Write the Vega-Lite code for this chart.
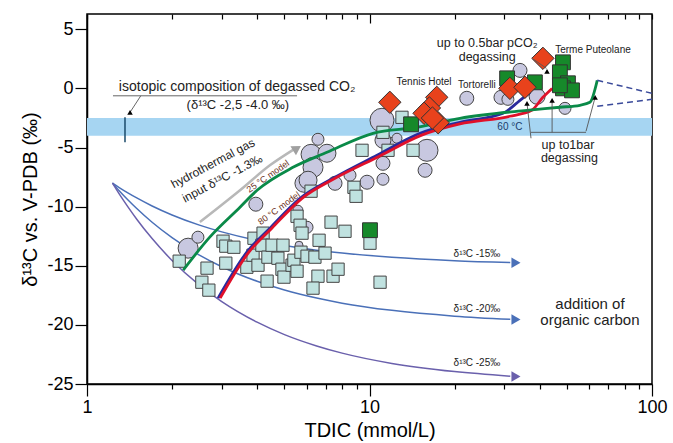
{
  "$schema": "https://vega.github.io/schema/vega-lite/v6.json",
  "width": 565,
  "height": 370,
  "autosize": {"type": "none"},
  "padding": {"left": 87, "top": 14, "right": 21, "bottom": 59},
  "background": "white",
  "config": {
    "font": "Liberation Sans",
    "view": {"stroke": "black", "strokeWidth": 1.5},
    "axis": {"grid": false, "domainColor": "black", "domainWidth": 1.5, "tickColor": "black", "tickWidth": 1.2, "labelColor": "black", "titleColor": "black", "labelFont": "Liberation Sans", "titleFont": "Liberation Sans", "titleFontWeight": "normal"}
  },
  "datasets": {
    "band": [{"tdic": 1, "tdic2": 100, "d13c": -4.0, "d13c2": -2.5}],
    "organic": [
      {"end": "-15", "tdic": 1.23, "d13c": -8.0}, {"end": "-15", "tdic": 1.3, "d13c": -8.38}, {"end": "-15", "tdic": 1.4, "d13c": -8.85}, {"end": "-15", "tdic": 1.5, "d13c": -9.26}, {"end": "-15", "tdic": 1.7, "d13c": -9.94}, {"end": "-15", "tdic": 2, "d13c": -10.7}, {"end": "-15", "tdic": 2.5, "d13c": -11.56}, {"end": "-15", "tdic": 3, "d13c": -12.13}, {"end": "-15", "tdic": 4, "d13c": -12.85}, {"end": "-15", "tdic": 5, "d13c": -13.28}, {"end": "-15", "tdic": 6.5, "d13c": -13.68}, {"end": "-15", "tdic": 8, "d13c": -13.92}, {"end": "-15", "tdic": 12, "d13c": -14.28}, {"end": "-15", "tdic": 20, "d13c": -14.57}, {"end": "-15", "tdic": 31.5, "d13c": -14.73},
      {"end": "-20", "tdic": 1.23, "d13c": -8.0}, {"end": "-20", "tdic": 1.3, "d13c": -8.65}, {"end": "-20", "tdic": 1.4, "d13c": -9.46}, {"end": "-20", "tdic": 1.5, "d13c": -10.16}, {"end": "-20", "tdic": 1.7, "d13c": -11.32}, {"end": "-20", "tdic": 2, "d13c": -12.62}, {"end": "-20", "tdic": 2.5, "d13c": -14.1}, {"end": "-20", "tdic": 3, "d13c": -15.08}, {"end": "-20", "tdic": 4, "d13c": -16.31}, {"end": "-20", "tdic": 5, "d13c": -17.05}, {"end": "-20", "tdic": 6.5, "d13c": -17.73}, {"end": "-20", "tdic": 8, "d13c": -18.16}, {"end": "-20", "tdic": 12, "d13c": -18.77}, {"end": "-20", "tdic": 20, "d13c": -19.26}, {"end": "-20", "tdic": 31.5, "d13c": -19.53},
      {"end": "-25", "tdic": 1.23, "d13c": -8.0}, {"end": "-25", "tdic": 1.3, "d13c": -8.92}, {"end": "-25", "tdic": 1.4, "d13c": -10.06}, {"end": "-25", "tdic": 1.5, "d13c": -11.06}, {"end": "-25", "tdic": 1.7, "d13c": -12.7}, {"end": "-25", "tdic": 2, "d13c": -14.55}, {"end": "-25", "tdic": 2.5, "d13c": -16.64}, {"end": "-25", "tdic": 3, "d13c": -18.03}, {"end": "-25", "tdic": 4, "d13c": -19.77}, {"end": "-25", "tdic": 5, "d13c": -20.82}, {"end": "-25", "tdic": 6.5, "d13c": -21.78}, {"end": "-25", "tdic": 8, "d13c": -22.39}, {"end": "-25", "tdic": 12, "d13c": -23.26}, {"end": "-25", "tdic": 20, "d13c": -23.95}, {"end": "-25", "tdic": 31.5, "d13c": -24.34}
    ],
    "organicHeads": [
      {"end": "-15", "tdic": 33, "d13c": -14.75},
      {"end": "-20", "tdic": 33, "d13c": -19.55},
      {"end": "-25", "tdic": 33, "d13c": -24.36}
    ],
    "greyArrow": [
      {"tdic": 2.51, "d13c": -11.3}, {"tdic": 3.48, "d13c": -8.61}, {"tdic": 4.44, "d13c": -6.5}, {"tdic": 5.4, "d13c": -5.15}
    ],
    "greyHead": [{"tdic": 5.54, "d13c": -5.06}],
    "circles": [
      {"tdic": 2.28, "d13c": -13.51, "r": 10}, {"tdic": 2.47, "d13c": -12.58, "r": 6}, {"tdic": 3.96, "d13c": -9.79, "r": 7},
      {"tdic": 5.86, "d13c": -8.02, "r": 9}, {"tdic": 7.55, "d13c": -8.02, "r": 7}, {"tdic": 6.01, "d13c": -11.74, "r": 6},
      {"tdic": 5.63, "d13c": -13.26, "r": 4}, {"tdic": 11.07, "d13c": -2.69, "r": 12}, {"tdic": 6.57, "d13c": -4.3, "r": 6},
      {"tdic": 6.21, "d13c": -5.57, "r": 10}, {"tdic": 7.07, "d13c": -5.48, "r": 9}, {"tdic": 6.31, "d13c": -6.67, "r": 10},
      {"tdic": 6.06, "d13c": -7.76, "r": 9}, {"tdic": 8.53, "d13c": -7.34, "r": 6}, {"tdic": 9.8, "d13c": -7.93, "r": 7},
      {"tdic": 11.16, "d13c": -7.68, "r": 6}, {"tdic": 11.16, "d13c": -6.33, "r": 7}, {"tdic": 12.01, "d13c": -4.64, "r": 6},
      {"tdic": 12.51, "d13c": -4.21, "r": 5}, {"tdic": 15.98, "d13c": -5.23, "r": 11}, {"tdic": 15.73, "d13c": -6.92, "r": 7},
      {"tdic": 22.1, "d13c": -0.83, "r": 7}, {"tdic": 34.1, "d13c": 1.53, "r": 7}, {"tdic": 29.2, "d13c": -0.75, "r": 7},
      {"tdic": 30.9, "d13c": -0.92, "r": 6}, {"tdic": 39.2, "d13c": -0.66, "r": 8}, {"tdic": 49.2, "d13c": -1.68, "r": 6},
      {"tdic": 5.58, "d13c": -10.3, "r": 5}, {"tdic": 11.16, "d13c": -4.38, "r": 8}
    ],
    "squares": [
      {"tdic": 2.12, "d13c": -14.61}, {"tdic": 2.55, "d13c": -16.39}, {"tdic": 2.7, "d13c": -17.06}, {"tdic": 2.66, "d13c": -15.2},
      {"tdic": 3.03, "d13c": -12.92}, {"tdic": 3.1, "d13c": -13.34}, {"tdic": 3.31, "d13c": -13.43}, {"tdic": 3.1, "d13c": -14.78},
      {"tdic": 3.68, "d13c": -15.12}, {"tdic": 3.87, "d13c": -14.1}, {"tdic": 3.9, "d13c": -12.67}, {"tdic": 4.2, "d13c": -12.24},
      {"tdic": 4.16, "d13c": -13.26}, {"tdic": 4.03, "d13c": -14.95}, {"tdic": 4.37, "d13c": -14.27}, {"tdic": 4.52, "d13c": -13.26},
      {"tdic": 4.94, "d13c": -13.26}, {"tdic": 4.74, "d13c": -14.36}, {"tdic": 4.9, "d13c": -15.29}, {"tdic": 4.98, "d13c": -15.96},
      {"tdic": 4.34, "d13c": -16.3}, {"tdic": 5.32, "d13c": -14.95}, {"tdic": 5.4, "d13c": -14.53}, {"tdic": 5.54, "d13c": -15.46},
      {"tdic": 5.72, "d13c": -13.85}, {"tdic": 6.01, "d13c": -14.19}, {"tdic": 6.41, "d13c": -14.27}, {"tdic": 6.63, "d13c": -12.84},
      {"tdic": 6.96, "d13c": -13.93}, {"tdic": 6.57, "d13c": -15.88}, {"tdic": 6.31, "d13c": -16.89}, {"tdic": 7.43, "d13c": -15.88},
      {"tdic": 7.74, "d13c": -15.29}, {"tdic": 5.54, "d13c": -10.81}, {"tdic": 5.68, "d13c": -11.57}, {"tdic": 5.77, "d13c": -12.24},
      {"tdic": 7.31, "d13c": -11.31}, {"tdic": 8.19, "d13c": -12.08}, {"tdic": 6.21, "d13c": -8.69}, {"tdic": 11.16, "d13c": -3.71},
      {"tdic": 13.03, "d13c": -2.44}, {"tdic": 11.63, "d13c": -5.23}, {"tdic": 9.41, "d13c": -5.23}, {"tdic": 14.26, "d13c": -5.23},
      {"tdic": 8.81, "d13c": -8.36}, {"tdic": 8.96, "d13c": -9.12}, {"tdic": 10.04, "d13c": -13.09}, {"tdic": 10.9, "d13c": -16.39}
    ],
    "greens": [
      {"tdic": 10.04, "d13c": -11.99}, {"tdic": 14.03, "d13c": -3.03}, {"tdic": 30.7, "d13c": 0.86}, {"tdic": 38.5, "d13c": 0.52},
      {"tdic": 48.4, "d13c": 2.21}, {"tdic": 47.2, "d13c": 1.37}, {"tdic": 50.4, "d13c": 0.44}, {"tdic": 48.4, "d13c": 0.01},
      {"tdic": 52.1, "d13c": -0.16}, {"tdic": 47.2, "d13c": 0.27}
    ],
    "diamonds": [
      {"tdic": 11.8, "d13c": -1.17}, {"tdic": 17.3, "d13c": -0.75}, {"tdic": 16.3, "d13c": -1.65}, {"tdic": 15.6, "d13c": -2.1},
      {"tdic": 17.5, "d13c": -2.9}, {"tdic": 16.7, "d13c": -2.5}, {"tdic": 41.1, "d13c": 2.55}, {"tdic": 31.4, "d13c": 0.01},
      {"tdic": 35.5, "d13c": 0.1}
    ],
    "models": [
      {"m": "blue", "tdic": 2.91, "d13c": -17.74}, {"m": "blue", "tdic": 3.68, "d13c": -13.85}, {"m": "blue", "tdic": 4.44, "d13c": -11.82},
      {"m": "blue", "tdic": 5.68, "d13c": -9.29}, {"m": "blue", "tdic": 7.43, "d13c": -7.6}, {"m": "blue", "tdic": 10.63, "d13c": -5.65},
      {"m": "blue", "tdic": 15.1, "d13c": -3.79}, {"m": "blue", "tdic": 20.9, "d13c": -2.86}, {"m": "blue", "tdic": 29.7, "d13c": -2.1},
      {"m": "blue", "tdic": 34.1, "d13c": -1.0}, {"m": "blue", "tdic": 37.0, "d13c": -0.33},
      {"m": "red", "tdic": 2.96, "d13c": -17.74}, {"m": "red", "tdic": 3.74, "d13c": -13.85}, {"m": "red", "tdic": 4.51, "d13c": -11.82},
      {"m": "red", "tdic": 5.77, "d13c": -9.29}, {"m": "red", "tdic": 7.55, "d13c": -7.6}, {"m": "red", "tdic": 10.8, "d13c": -5.75},
      {"m": "red", "tdic": 15.3, "d13c": -3.95}, {"m": "red", "tdic": 20.9, "d13c": -3.0}, {"m": "red", "tdic": 31.4, "d13c": -2.35},
      {"m": "red", "tdic": 37.5, "d13c": -1.85}, {"m": "red", "tdic": 41.1, "d13c": -0.75}, {"m": "red", "tdic": 44.3, "d13c": 0.0},
      {"m": "green", "tdic": 2.19, "d13c": -15.37}, {"m": "green", "tdic": 2.72, "d13c": -12.58}, {"m": "green", "tdic": 3.48, "d13c": -10.05},
      {"m": "green", "tdic": 4.0, "d13c": -8.61}, {"m": "green", "tdic": 5.36, "d13c": -6.67}, {"m": "green", "tdic": 7.07, "d13c": -5.4},
      {"m": "green", "tdic": 10.29, "d13c": -3.79}, {"m": "green", "tdic": 14.7, "d13c": -3.28}, {"m": "green", "tdic": 20.9, "d13c": -2.52},
      {"m": "green", "tdic": 36.1, "d13c": -1.85}, {"m": "green", "tdic": 47.2, "d13c": -1.59}, {"m": "green", "tdic": 55.6, "d13c": -1.42},
      {"m": "green", "tdic": 60.3, "d13c": -1.17}, {"m": "green", "tdic": 64.0, "d13c": 0.69}
    ],
    "dashed": [
      {"s": "a", "tdic": 64.0, "d13c": 0.69}, {"s": "a", "tdic": 100, "d13c": -0.41},
      {"s": "b", "tdic": 64.0, "d13c": -1.51}, {"s": "b", "tdic": 100, "d13c": -0.92}
    ],
    "thinRules": [
      {"tdic": 36.1, "d13c": -1.26, "tdic2": 37.3, "d13c2": -4.21},
      {"tdic": 44.3, "d13c": -1.0, "tdic2": 44.3, "d13c2": -3.71},
      {"tdic": 62.9, "d13c": -0.75, "tdic2": 58.4, "d13c2": -3.62},
      {"tdic": 37.3, "d13c": -3.71, "tdic2": 58.4, "d13c2": -3.71},
      {"tdic": 37.9, "d13c": 2.5, "tdic2": 42.3, "d13c2": 1.7},
      {"tdic": 1.42, "d13c": -2.02, "tdic2": 1.55, "d13c2": -0.62},
      {"tdic": 1.236, "d13c": -0.62, "tdic2": 5.54, "d13c2": -0.62}
    ],
    "errbar": [{"tdic": 1.363, "d13c": -2.44, "tdic2": 1.363, "d13c2": -4.55}],
    "blackHeads": [
      {"tdic": 36.1, "d13c": -1.26}, {"tdic": 44.3, "d13c": -1.0}, {"tdic": 62.9, "d13c": -0.75}, {"tdic": 42.5, "d13c": 1.45}, {"tdic": 1.42, "d13c": -2.02}
    ],
    "text14": [
      {"tdic": 3.4, "d13c": 0.12, "label": "isotopic composition of degassed CO₂"}
    ],
    "text13": [
      {"tdic": 3.42, "d13c": -1.4, "label": "(δ¹³C -2,5 -4.0 ‰)"}
    ],
    "text12": [
      {"tdic": 26.1, "d13c": 3.82, "label": "up to 0.5bar pCO₂"},
      {"tdic": 26.1, "d13c": 2.63, "label": "degassing"},
      {"tdic": 50.4, "d13c": -4.8, "label": "up to1bar"},
      {"tdic": 51.0, "d13c": -5.9, "label": "degassing"}
    ],
    "text10": [
      {"tdic": 15.6, "d13c": 0.52, "label": "Tennis Hotel"},
      {"tdic": 24.0, "d13c": 0.27, "label": "Tortorelli"},
      {"tdic": 61.8, "d13c": 3.22, "label": "Terme Puteolane"},
      {"tdic": 24.0, "d13c": -14.02, "label": "δ¹³C -15‰"},
      {"tdic": 24.0, "d13c": -18.67, "label": "δ¹³C -20‰"},
      {"tdic": 24.0, "d13c": -23.23, "label": "δ¹³C -25‰"}
    ],
    "text60": [{"tdic": 31.4, "d13c": -3.28, "label": "60 °C"}],
    "text15": [
      {"tdic": 60.3, "d13c": -18.25, "label": "addition of"},
      {"tdic": 60.3, "d13c": -19.6, "label": "organic carbon"}
    ],
    "textGas": [
      {"tdic": 2.79, "d13c": -6.33, "label": "hydrothermal gas"},
      {"tdic": 3.01, "d13c": -7.6, "label": "input δ¹³C -1.3‰"}
    ],
    "text25": [{"tdic": 4.37, "d13c": -7.43, "label": "25 °C model"}],
    "text80": [{"tdic": 4.78, "d13c": -10.13, "label": "80 °C model"}]
  },
  "layer": [
    {
      "layer": [
        {
          "data": {"name": "band"},
          "mark": {"type": "rect", "color": "#a6d5f2"},
          "encoding": {
            "x": {"field": "tdic", "type": "quantitative", "scale": {"type": "log", "domain": [1, 100], "nice": false},
              "title": "TDIC (mmol/L)",
              "axis": {"values": [1,2,3,4,5,6,7,8,9,10,20,30,40,50,60,70,80,90,100], "labelExpr": "datum.value === 1 || datum.value === 10 || datum.value === 100 ? '' + datum.value : ''", "labelFlush": false, "labelOverlap": false, "labelFontSize": 18, "labelPadding": 2, "titleFontSize": 20, "titlePadding": 4, "tickSize": {"condition": {"test": "datum.value === 1 || datum.value === 10 || datum.value === 100", "value": 12}, "value": 5}}},
            "x2": {"field": "tdic2"},
            "y": {"field": "d13c", "type": "quantitative", "scale": {"domain": [-25, 6.3], "nice": false, "zero": false},
              "title": "δ¹³C vs. V-PDB (‰)",
              "axis": {"values": [-25,-22.5,-20,-17.5,-15,-12.5,-10,-7.5,-5,-2.5,0,2.5,5], "labelExpr": "datum.value % 5 === 0 ? '' + datum.value : ''", "labelOverlap": false, "labelFontSize": 18, "labelPadding": 2, "titleFontSize": 20, "titlePadding": 6, "tickSize": {"condition": {"test": "datum.value % 5 === 0", "value": 12}, "value": 7}}},
            "y2": {"field": "d13c2"}
          }
        },
        {
          "data": {"name": "organic"},
          "mark": {"type": "line", "strokeWidth": 1.5, "interpolate": "monotone"},
          "encoding": {
            "x": {"field": "tdic", "type": "quantitative"},
            "y": {"field": "d13c", "type": "quantitative"},
            "color": {"field": "end", "type": "nominal", "scale": {"domain": ["-15", "-20", "-25"], "range": ["#4a70b8", "#4a70b8", "#6a60ac"]}, "legend": null}
          }
        },
        {
          "data": {"name": "organicHeads"},
          "mark": {"type": "point", "shape": "triangle-right", "filled": true, "size": 110, "opacity": 1},
          "encoding": {
            "x": {"field": "tdic", "type": "quantitative"},
            "y": {"field": "d13c", "type": "quantitative"},
            "color": {"field": "end", "type": "nominal", "legend": null}
          }
        },
        {
          "data": {"name": "greyArrow"},
          "mark": {"type": "line", "color": "#b8b8b8", "strokeWidth": 2.5, "interpolate": "monotone"},
          "encoding": {"x": {"field": "tdic", "type": "quantitative"}, "y": {"field": "d13c", "type": "quantitative"}}
        },
        {
          "data": {"name": "greyHead"},
          "mark": {"type": "point", "shape": "triangle-up", "filled": true, "size": 110, "angle": 58, "color": "#a0a0a0", "opacity": 1},
          "encoding": {"x": {"field": "tdic", "type": "quantitative"}, "y": {"field": "d13c", "type": "quantitative"}}
        },
        {
          "data": {"name": "circles"},
          "mark": {"type": "point", "shape": "circle", "filled": true, "fill": "#c8c8e0", "stroke": "#444444", "strokeWidth": 1, "opacity": 1},
          "encoding": {
            "x": {"field": "tdic", "type": "quantitative"},
            "y": {"field": "d13c", "type": "quantitative"},
            "size": {"field": "r", "type": "quantitative", "scale": {"type": "pow", "exponent": 2, "domain": [0, 13], "range": [0, 676]}, "legend": null}
          }
        },
        {
          "data": {"name": "squares"},
          "mark": {"type": "point", "shape": "square", "filled": true, "fill": "#c0e2e0", "stroke": "#444444", "strokeWidth": 1, "size": 150, "opacity": 1},
          "encoding": {"x": {"field": "tdic", "type": "quantitative"}, "y": {"field": "d13c", "type": "quantitative"}}
        },
        {
          "data": {"name": "models"},
          "mark": {"type": "line", "strokeWidth": 2.8, "interpolate": "monotone"},
          "encoding": {
            "x": {"field": "tdic", "type": "quantitative"},
            "y": {"field": "d13c", "type": "quantitative"},
            "detail": {"field": "m", "type": "nominal"},
            "stroke": {"field": "m", "type": "nominal", "scale": {"domain": ["blue", "red", "green"], "range": ["#2a2a9c", "#e0102a", "#0a8a48"]}, "legend": null}
          }
        },
        {
          "data": {"name": "dashed"},
          "mark": {"type": "line", "strokeWidth": 1.5, "strokeDash": [6, 4], "color": "#3a4a9a"},
          "encoding": {"x": {"field": "tdic", "type": "quantitative"}, "y": {"field": "d13c", "type": "quantitative"}, "detail": {"field": "s", "type": "nominal"}}
        },
        {
          "data": {"name": "greens"},
          "mark": {"type": "point", "shape": "square", "filled": true, "fill": "#16892a", "stroke": "#333333", "strokeWidth": 1, "size": 220, "opacity": 1},
          "encoding": {"x": {"field": "tdic", "type": "quantitative"}, "y": {"field": "d13c", "type": "quantitative"}}
        },
        {
          "data": {"name": "diamonds"},
          "mark": {"type": "point", "shape": "diamond", "filled": true, "fill": "#e8421c", "stroke": "#333333", "strokeWidth": 1, "size": 500, "opacity": 1},
          "encoding": {"x": {"field": "tdic", "type": "quantitative"}, "y": {"field": "d13c", "type": "quantitative"}}
        },
        {
          "data": {"name": "thinRules"},
          "mark": {"type": "rule", "color": "#555555", "strokeWidth": 0.9},
          "encoding": {"x": {"field": "tdic", "type": "quantitative"}, "y": {"field": "d13c", "type": "quantitative"}, "x2": {"field": "tdic2"}, "y2": {"field": "d13c2"}}
        },
        {
          "data": {"name": "errbar"},
          "mark": {"type": "rule", "color": "#1a4a6a", "strokeWidth": 1.5},
          "encoding": {"x": {"field": "tdic", "type": "quantitative"}, "y": {"field": "d13c", "type": "quantitative"}, "x2": {"field": "tdic2"}, "y2": {"field": "d13c2"}}
        },
        {
          "data": {"name": "blackHeads"},
          "mark": {"type": "point", "shape": "triangle-up", "filled": true, "size": 30, "color": "black", "opacity": 1},
          "encoding": {"x": {"field": "tdic", "type": "quantitative"}, "y": {"field": "d13c", "type": "quantitative"}}
        },
        {
          "data": {"name": "text14"},
          "mark": {"type": "text", "fontSize": 14, "color": "#222222", "baseline": "middle", "align": "center"},
          "encoding": {"x": {"field": "tdic", "type": "quantitative"}, "y": {"field": "d13c", "type": "quantitative"}, "text": {"field": "label"}}
        },
        {
          "data": {"name": "text13"},
          "mark": {"type": "text", "fontSize": 13, "color": "#222222", "baseline": "middle", "align": "center"},
          "encoding": {"x": {"field": "tdic", "type": "quantitative"}, "y": {"field": "d13c", "type": "quantitative"}, "text": {"field": "label"}}
        },
        {
          "data": {"name": "text12"},
          "mark": {"type": "text", "fontSize": 12.5, "color": "#222222", "baseline": "middle", "align": "center"},
          "encoding": {"x": {"field": "tdic", "type": "quantitative"}, "y": {"field": "d13c", "type": "quantitative"}, "text": {"field": "label"}}
        },
        {
          "data": {"name": "text10"},
          "mark": {"type": "text", "fontSize": 10, "color": "#222222", "baseline": "middle", "align": "center"},
          "encoding": {"x": {"field": "tdic", "type": "quantitative"}, "y": {"field": "d13c", "type": "quantitative"}, "text": {"field": "label"}}
        },
        {
          "data": {"name": "text60"},
          "mark": {"type": "text", "fontSize": 10, "color": "#1a3a6a", "baseline": "middle", "align": "center"},
          "encoding": {"x": {"field": "tdic", "type": "quantitative"}, "y": {"field": "d13c", "type": "quantitative"}, "text": {"field": "label"}}
        },
        {
          "data": {"name": "text15"},
          "mark": {"type": "text", "fontSize": 15, "color": "#222222", "baseline": "middle", "align": "center"},
          "encoding": {"x": {"field": "tdic", "type": "quantitative"}, "y": {"field": "d13c", "type": "quantitative"}, "text": {"field": "label"}}
        },
        {
          "data": {"name": "textGas"},
          "mark": {"type": "text", "fontSize": 12, "color": "#222222", "baseline": "middle", "align": "center", "angle": 332},
          "encoding": {"x": {"field": "tdic", "type": "quantitative"}, "y": {"field": "d13c", "type": "quantitative"}, "text": {"field": "label"}}
        },
        {
          "data": {"name": "text25"},
          "mark": {"type": "text", "fontSize": 9, "color": "#6b3020", "baseline": "middle", "align": "center", "angle": 325},
          "encoding": {"x": {"field": "tdic", "type": "quantitative"}, "y": {"field": "d13c", "type": "quantitative"}, "text": {"field": "label"}}
        },
        {
          "data": {"name": "text80"},
          "mark": {"type": "text", "fontSize": 9, "color": "#6b3020", "baseline": "middle", "align": "center", "angle": 324},
          "encoding": {"x": {"field": "tdic", "type": "quantitative"}, "y": {"field": "d13c", "type": "quantitative"}, "text": {"field": "label"}}
        }
      ]
    },
    {
      "data": {"values": [{"tdic": 1, "d13c": 0}]},
      "mark": {"type": "point", "opacity": 0},
      "encoding": {
        "x": {"field": "tdic", "type": "quantitative", "scale": {"type": "log", "domain": [1, 100], "nice": false},
          "axis": {"orient": "top", "title": null, "labels": false, "domain": false, "values": [1,2,3,4,5,6,7,8,9,10,20,30,40,50,60,70,80,90,100], "tickSize": {"condition": {"test": "datum.value === 10", "value": -9}, "value": -5}}},
        "y": {"field": "d13c", "type": "quantitative", "axis": null}
      }
    }
  ],
  "resolve": {"axis": {"x": "independent", "y": "independent"}}
}
